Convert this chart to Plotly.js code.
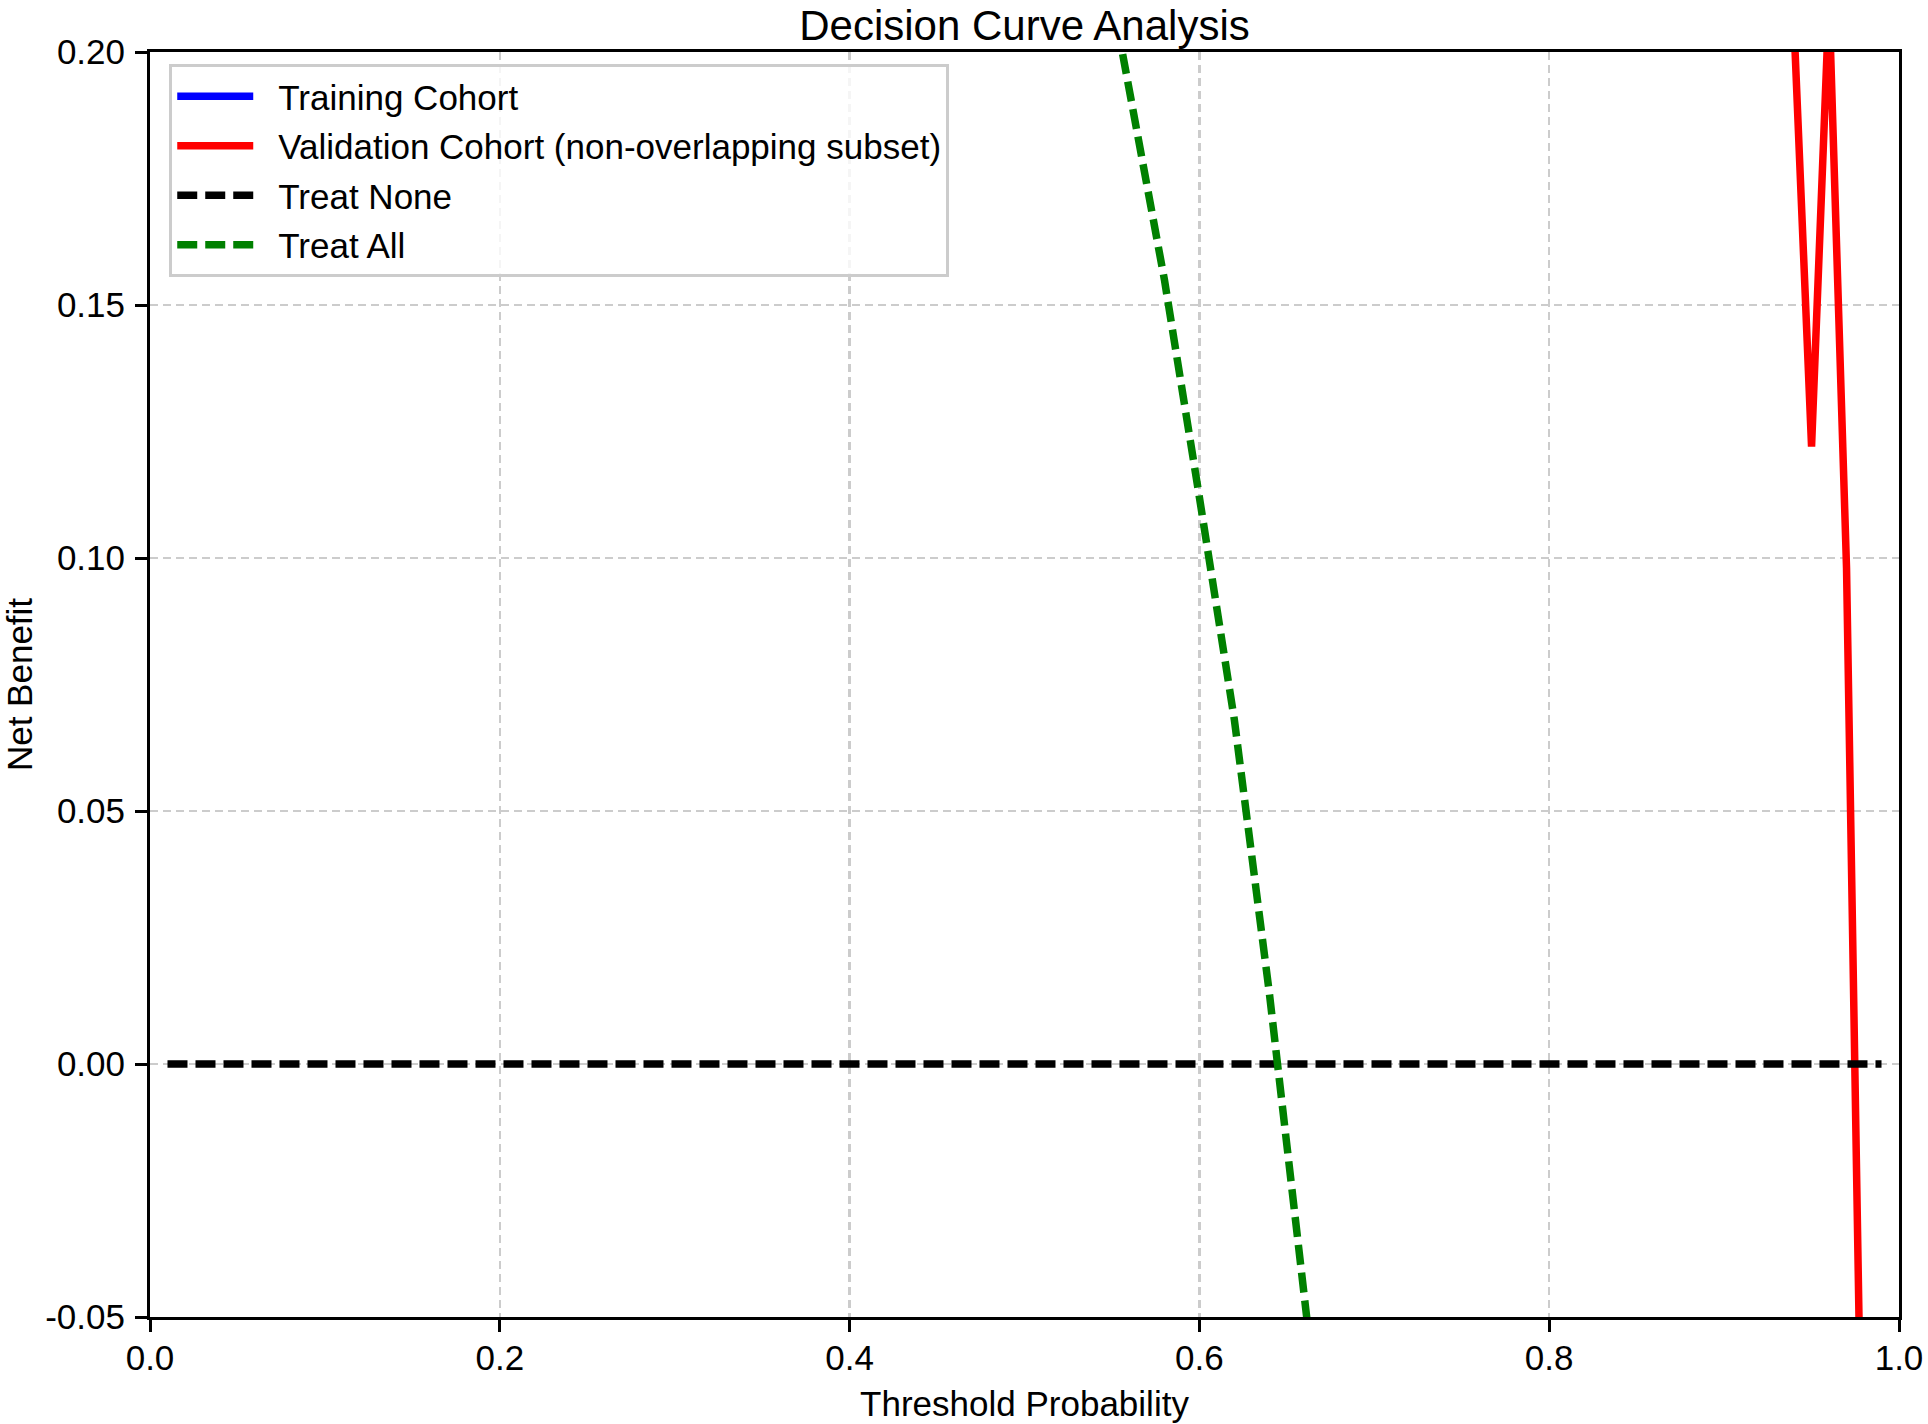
<!DOCTYPE html>
<html>
<head>
<meta charset="utf-8">
<script src="https://cdn.plot.ly/plotly-3.0.1.min.js"></script>
<style>
    body { margin: 0; background: #ffffff; }
    #chart { width: 1928px; height: 1424px; }
</style>
</head>
<body>
<div id="chart"></div>
<script>
// Values (net benefit per threshold)

// Training cohort stays above the visible range everywhere
var trainThresholds = [0.01, 0.1, 0.2, 0.3, 0.4, 0.5, 0.6, 0.7, 0.8, 0.9, 0.95, 0.99];
var trainBenefit = [0.645, 0.635, 0.62, 0.605, 0.59, 0.57, 0.54, 0.50, 0.45, 0.38, 0.32, 0.24];

// Validation cohort only shows up at the far right
var validThresholds = [0.01, 0.1, 0.2, 0.3, 0.4, 0.5, 0.6, 0.7, 0.8, 0.85, 0.9, 0.92, 0.93, 0.94, 0.95, 0.96, 0.97, 0.98, 0.99];
var validBenefit = [0.64, 0.62, 0.60, 0.57, 0.54, 0.50, 0.46, 0.42, 0.38, 0.35, 0.31, 0.28, 0.26, 0.205, 0.122, 0.21, 0.098, -0.11, -0.5];

// Reference strategies
var noneThresholds = [0.01, 0.99];
var noneBenefit = [0, 0];

var allThresholds = [0.01, 0.1, 0.2, 0.3, 0.4, 0.5, 0.55, 0.56, 0.58, 0.60, 0.62, 0.64, 0.66, 0.67, 0.7, 0.8, 0.9];
var allBenefit = [0.641, 0.61, 0.556, 0.49, 0.408, 0.29, 0.211, 0.192, 0.155, 0.112, 0.068, 0.014, -0.044, -0.076, -0.183, -0.775, -2.55];

// Axis ticks
var xTicks = [0.0, 0.2, 0.4, 0.6, 0.8, 1.0];
var xTickLabels = ["0.0", "0.2", "0.4", "0.6", "0.8", "1.0"];
var yTicks = [-0.05, 0.0, 0.05, 0.10, 0.15, 0.20];
var yTickLabels = ["-0.05", "0.00", "0.05", "0.10", "0.15", "0.20"];

var FONT = "Liberation Sans, Arial, sans-serif";
var LINE_W = 7.5;
var HANDLE_LEN = 76;   // legend handle length, text sits a bit further right

// Build the traces
var traces = [
    {
        name: "Training Cohort",
        x: trainThresholds,
        y: trainBenefit,
        type: "scatter",
        mode: "lines",
        legendgroup: "a",
        line: { color: "#0000ff", width: LINE_W }
    },
    {
        name: "Validation Cohort (non-overlapping subset)",
        x: validThresholds,
        y: validBenefit,
        type: "scatter",
        mode: "lines",
        legendgroup: "b",
        line: { color: "#ff0000", width: LINE_W }
    },
    {
        name: "Treat None",
        x: noneThresholds,
        y: noneBenefit,
        type: "scatter",
        mode: "lines",
        legendgroup: "c",
        line: { color: "#000000", width: LINE_W, dash: "20px,8px" }
    },
    {
        name: "Treat All",
        x: allThresholds,
        y: allBenefit,
        type: "scatter",
        mode: "lines",
        legendgroup: "d",
        line: { color: "#008000", width: LINE_W, dash: "20px,8px" }
    }
];

// Common axis look, matplotlib style with a full black frame
var axisBase = {
    showline: true,
    mirror: true,
    linecolor: "#000000",
    linewidth: 3,
    ticks: "outside",
    ticklen: 12,
    tickwidth: 3,
    tickcolor: "#000000",
    tickfont: { family: FONT, size: 35, color: "#000000" },
    showgrid: true,
    gridcolor: "#cccccc",
    gridwidth: 2.5,
    griddash: "8px,5px",
    zeroline: false,
    automargin: false
};

var layout = {
    width: 1928,
    height: 1424,
    paper_bgcolor: "#ffffff",
    plot_bgcolor: "#ffffff",
    margin: { l: 150, r: 29, t: 52, b: 107 },
    font: { family: FONT, size: 35, color: "#000000" },
    title: {
        text: "Decision Curve Analysis",
        font: { family: FONT, size: 42, color: "#000000" },
        x: 0.5,
        xref: "paper",
        xanchor: "center",
        y: 1 - 25 / 1424,
        yref: "container",
        yanchor: "middle"
    },
    xaxis: Object.assign({}, axisBase, {
        range: [0, 1],
        tickvals: xTicks,
        ticktext: xTickLabels,
        ticklabelstandoff: -4,
        title: { text: "Threshold Probability", font: { family: FONT, size: 35 }, standoff: 16 }
    }),
    yaxis: Object.assign({}, axisBase, {
        range: [-0.05, 0.20],
        tickvals: yTicks,
        ticktext: yTickLabels,
        ticklabelstandoff: 3,
        title: { text: "Net Benefit", font: { family: FONT, size: 35 }, standoff: 20 }
    }),
    showlegend: true,
    legend: {
        x: 0.011,
        y: 0.9906,
        xanchor: "left",
        yanchor: "top",
        bgcolor: "rgba(255,255,255,0.8)",
        bordercolor: "#cccccc",
        borderwidth: 3,
        itemwidth: 96,
        tracegroupgap: 1,
        font: { family: FONT, size: 35, color: "#000000" }
    }
};

var config = {
    displayModeBar: false,
    staticPlot: true
};

Plotly.newPlot("chart", traces, layout, config).then(function (gd) {
    // Plotly stretches the handle over the whole item width, shorten it to leave a gap before the text
    gd.querySelectorAll(".legend .legendlines path").forEach(function (path) {
        var d = path.getAttribute("d");
        if (d) path.setAttribute("d", d.replace(/h[-\d.]+/, "h" + HANDLE_LEN));
    });
});
</script>
</body>
</html>
